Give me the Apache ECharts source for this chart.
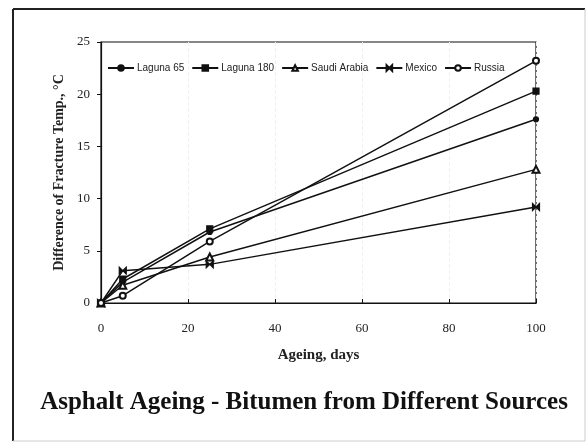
<!DOCTYPE html>
<html>
<head>
<meta charset="utf-8">
<script src="https://cdn.jsdelivr.net/npm/echarts@6/dist/echarts.min.js"></script>
<style>html,body{margin:0;padding:0;background:#fff}#c{width:587px;height:443px}</style>
</head>
<body>
<div id="c"></div>
<script>
const ageingDays = [0, 5, 25, 100];
const laguna65 = [0, 2.0, 6.8, 17.6];
const laguna180 = [0, 2.3, 7.1, 20.3];
const saudiArabia = [0, 1.7, 4.4, 12.8];
const mexico = [0, 3.1, 3.7, 9.2];
const russia = [0, 0.7, 5.9, 23.2];
const seriesNames = ['Laguna 65', 'Laguna 180', 'Saudi Arabia', 'Mexico', 'Russia'];

const chart = echarts.init(document.getElementById('c'));
const serif = '"Liberation Serif", "DejaVu Serif", serif';
function mk(name, vals, symbol, size) {
  return {
    name: name, type: 'line',
    data: ageingDays.map((d, i) => [d, vals[i]]),
    symbol: symbol, symbolSize: size,
    lineStyle: {color: '#111', width: 1.5},
    itemStyle: {color: '#111', borderColor: '#111', borderWidth: 1.2},
    emphasis: {disabled: true}, z: 3
  };
}
const bowtie = 'path://M0,0L10,10L10,0L0,10Z';
chart.setOption({
  animation: false,
  backgroundColor: '#fff',
  grid: {left: 101, right: 51, top: 42, bottom: 140, show: true, borderColor: '#111', borderWidth: 1.2},
  legend: {
    data: seriesNames, top: 58, left: 102, itemGap: 7, itemWidth: 26, itemHeight: 7,
    textStyle: {fontFamily: '"Liberation Sans", Arial, sans-serif', fontSize: 10, color: '#222', padding: [0, 0, 0, -2]}
  },
  xAxis: {
    type: 'value', min: 0, max: 100, interval: 20,
    name: 'Ageing, days', nameLocation: 'middle', nameGap: 45,
    nameTextStyle: {fontFamily: serif, fontSize: 15, fontWeight: 'bold', color: '#222'},
    axisLine: {show: true, lineStyle: {color: '#111', width: 1.2}},
    axisTick: {show: true, inside: true, length: 4, lineStyle: {color: '#111'}},
    axisLabel: {fontFamily: serif, fontSize: 13, color: '#222', margin: 19},
    splitLine: {show: true, lineStyle: {color: '#f0f0f0', type: 'dashed'}}
  },
  yAxis: {
    type: 'value', min: 0, max: 25, interval: 5,
    name: 'Difference of Fracture Temp., °C', nameLocation: 'middle', nameGap: 27, nameRotate: 90,
    nameTextStyle: {fontFamily: serif, fontSize: 14, fontWeight: 'bold', color: '#222'},
    axisLine: {show: true, lineStyle: {color: '#111', width: 1.2}},
    axisTick: {show: true, inside: false, length: 4, lineStyle: {color: '#111'}},
    axisLabel: {fontFamily: serif, fontSize: 13, color: '#222', margin: 11},
    splitLine: {show: false}
  },
  graphic: [
    {type: 'line', shape: {x1: 13, y1: 9, x2: 585, y2: 9}, style: {stroke: '#222', lineWidth: 2}},
    {type: 'line', shape: {x1: 13, y1: 9, x2: 13, y2: 441}, style: {stroke: '#222', lineWidth: 2}},
    {type: 'line', shape: {x1: 585, y1: 9, x2: 585, y2: 441}, style: {stroke: '#ccc', lineWidth: 1}},
    {type: 'line', shape: {x1: 13, y1: 441, x2: 585, y2: 441}, style: {stroke: '#ccc', lineWidth: 1}},
    {type: 'text', x: 304, y: 403,
     style: {text: 'Asphalt Ageing - Bitumen from Different Sources', font: 'bold 25px "Liberation Serif", serif', fill: '#111', textAlign: 'center', textVerticalAlign: 'middle'}}
  ],
  series: [
    mk('Laguna 65', laguna65, 'circle', 5),
    mk('Laguna 180', laguna180, 'rect', 6),
    mk('Saudi Arabia', saudiArabia, 'emptyTriangle', 7),
    mk('Mexico', mexico, bowtie, 7),
    mk('Russia', russia, 'emptyCircle', 6)
  ]
});
</script>
</body>
</html>
